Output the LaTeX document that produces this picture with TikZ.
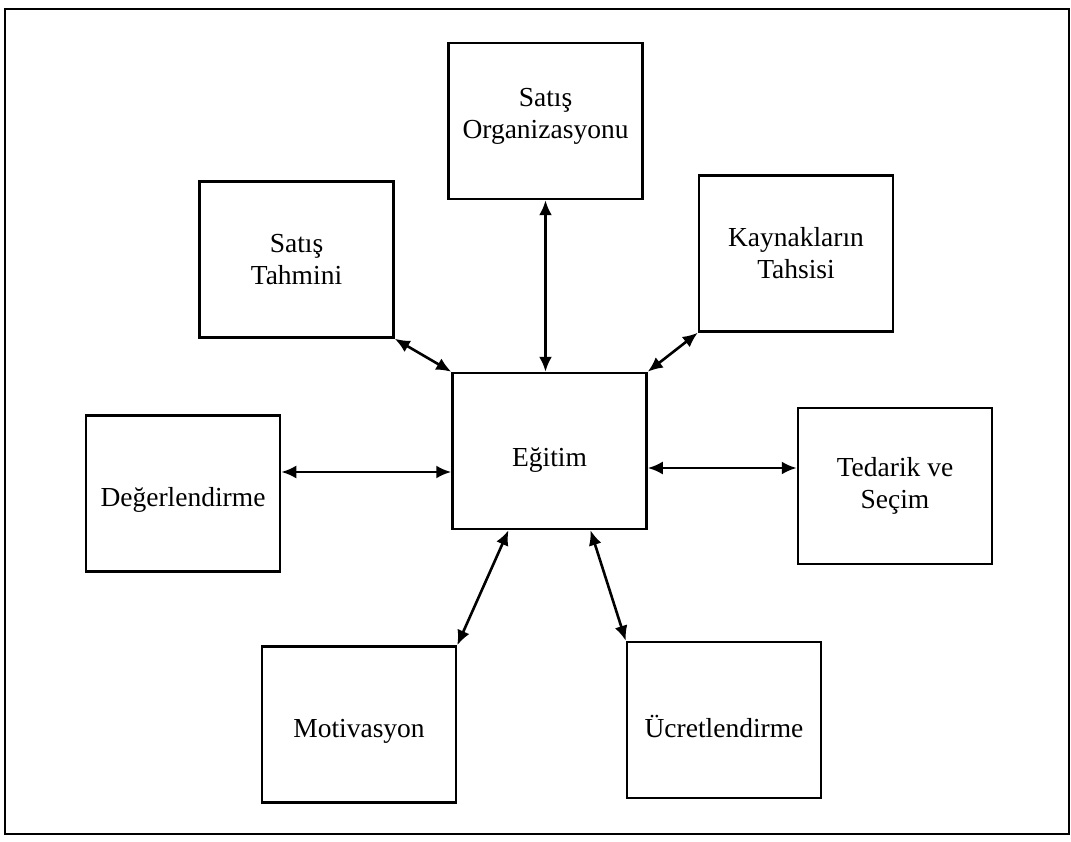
\documentclass[tikz,border=0pt]{standalone}
\usepackage{fontspec}
\setmainfont{Liberation Serif}
\usetikzlibrary{arrows.meta}
% move a label vertically without changing the box it reports
\newcommand\nudge[2]{\raisebox{#1}[\height][\depth]{#2}}
\begin{document}
\begin{tikzpicture}[x=1pt,y=-1pt,
  box/.style={draw,line width=2.5pt,minimum width=194pt,minimum height=156pt,
    inner sep=0pt,align=center,font=\fontsize{27.5}{32}\selectfont},
  link/.style={line width=2.6pt,{Latex[length=15pt,width=13pt]}-{Latex[length=15pt,width=13pt]}}]
\useasboundingbox (0,0) rectangle (1071,842);
% outer frame
\draw[line width=2.5pt] (5,9) rectangle (1069,834);
% boxes
\node[box] (org) at (545.5,121) {\nudge{5pt}{Satış}\\\nudge{5pt}{Organizasyonu}};
\node[box] (tah) at (296.5,259.5) {Satış\\Tahmini};
\node[box] (kay) at (796,253.5) {Kaynakların\\Tahsisi};
\node[box] (egi) at (549.5,451) {\nudge{-9pt}{Eğitim}};
\node[box] (deg) at (183,493.5) {\nudge{-6pt}{Değerlendirme}};
\node[box] (ted) at (895,486) {Tedarik ve\\Seçim};
\node[box] (mot) at (359,724.5) {\nudge{-7pt}{Motivasyon}};
\node[box] (ucr) at (724,720) {\nudge{-6pt}{Ücretlendirme}};
% attachment points on the sides
\coordinate (degR) at ([yshift=21.5pt]deg.east);
\coordinate (egiR) at ([yshift=-17pt]egi.east);
% connectors
\draw[link] (org.south) -- (org.south |- egi.north);
\draw[link] (tah.south east) -- (egi.north west);
\draw[link] (kay.south west) -- (egi.north east);
\draw[link] (degR) -- (egi.west |- degR);
\draw[link] (egiR) -- (ted.west |- egiR);
\draw[link] ([xshift=-41pt]egi.south) -- (mot.north east);
\draw[link] ([xshift=41pt]egi.south) -- (ucr.north west);
\end{tikzpicture}
\end{document}
